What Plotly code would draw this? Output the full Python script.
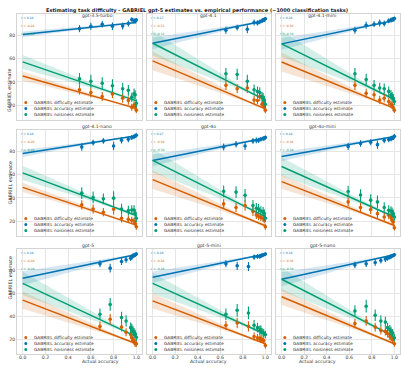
import numpy as np
import plotly.graph_objects as go

# ---------------- data ----------------
models = ["gpt-3.5-turbo", "gpt-4.1", "gpt-4.1-mini",
          "gpt-4.1-nano", "gpt-4o", "gpt-4o-mini",
          "gpt-5", "gpt-5-mini", "gpt-5-nano"]

actual_accuracy = [
    [0.50, 0.60, 0.70, 0.79, 0.88, 0.93, 0.96, 0.98, 0.99, 1.00],
    [0.65, 0.75, 0.84, 0.90, 0.93, 0.95, 0.97, 0.98, 0.99, 1.00],
    [0.65, 0.75, 0.82, 0.87, 0.91, 0.95, 0.97, 0.98, 0.99, 1.00],
    [0.52, 0.62, 0.71, 0.80, 0.87, 0.93, 0.96, 0.98, 0.99, 1.00],
    [0.63, 0.74, 0.82, 0.89, 0.92, 0.94, 0.96, 0.98, 0.99, 1.00],
    [0.59, 0.70, 0.79, 0.85, 0.91, 0.95, 0.97, 0.98, 0.99, 1.00],
    [0.68, 0.77, 0.87, 0.91, 0.95, 0.96, 0.97, 0.98, 0.99, 1.00],
    [0.65, 0.75, 0.85, 0.90, 0.93, 0.95, 0.96, 0.97, 0.985, 1.00],
    [0.65, 0.75, 0.83, 0.88, 0.92, 0.94, 0.96, 0.97, 0.985, 1.00],
]

accuracy_est = [
    [85.5, 87.6, 89.3, 87.6, 87.8, 89.9, 93.3, 92.2, 92.2, 92.8],
    [84.1, 86.4, 85.0, 90.7, 90.4, 91.3, 92.2, 92.8, 93.3, 93.9],
    [84.1, 88.4, 89.3, 90.4, 89.9, 92.2, 92.8, 93.3, 93.6, 94.2],
    [83.5, 87.2, 88.7, 84.4, 89.2, 90.1, 91.6, 92.2, 93.0, 93.5],
    [83.5, 85.8, 84.4, 88.7, 89.2, 89.2, 90.1, 90.7, 90.9, 91.6],
    [84.0, 86.4, 87.5, 85.5, 89.2, 89.8, 90.4, 91.3, 91.3, 92.7],
    [85.2, 81.5, 87.2, 88.7, 90.1, 91.0, 92.2, 92.5, 93.0, 93.6],
    [85.2, 83.5, 82.9, 91.0, 91.6, 91.6, 92.2, 92.5, 93.0, 93.6],
    [84.3, 85.2, 86.3, 88.1, 89.3, 90.1, 91.0, 91.6, 92.2, 93.0],
]

difficulty_est = [
    [33.3, 31.0, 27.5, 29.8, 26.1, 24.1, 18.3, 20.3, 18.9, 15.9],
    [37.1, 34.2, 34.8, 24.6, 24.1, 27.5, 20.9, 21.7, 18.9, 15.9],
    [37.1, 30.4, 29.0, 24.6, 26.1, 23.2, 20.9, 20.3, 18.0, 15.9],
    [34.1, 30.6, 27.8, 30.3, 22.6, 21.7, 20.9, 20.3, 18.3, 15.4],
    [34.9, 31.8, 33.5, 28.4, 25.5, 24.1, 23.2, 22.6, 21.1, 15.4],
    [36.6, 31.8, 30.1, 26.6, 23.7, 25.2, 23.2, 20.9, 19.4, 14.6],
    [31.3, 37.4, 30.7, 26.3, 24.3, 21.5, 19.7, 19.1, 16.3, 16.3],
    [32.2, 34.2, 31.3, 22.6, 21.5, 20.6, 20.6, 19.7, 19.1, 14.8],
    [33.7, 36.0, 30.7, 27.8, 27.0, 24.9, 22.6, 22.0, 19.7, 16.3],
]

noisiness_est = [
    [42.6, 40.6, 38.9, 36.8, 34.2, 32.8, 27.0, 29.8, 29.0, 21.7],
    [47.0, 46.4, 40.6, 33.3, 31.9, 31.0, 27.5, 26.7, 24.6, 20.9],
    [47.0, 42.0, 37.1, 34.8, 34.2, 31.9, 29.0, 27.5, 26.1, 23.2],
    [44.1, 40.4, 39.2, 39.8, 30.6, 29.2, 29.7, 29.7, 26.9, 22.6],
    [45.6, 45.0, 42.2, 33.5, 31.2, 30.6, 28.9, 28.4, 26.9, 22.6],
    [45.5, 42.4, 38.1, 36.6, 31.8, 29.5, 28.9, 28.0, 26.6, 23.7],
    [41.7, 50.2, 38.9, 36.0, 30.2, 29.3, 27.8, 26.3, 25.0, 22.0],
    [41.7, 45.2, 42.9, 32.2, 30.2, 27.8, 28.4, 26.3, 25.5, 24.3],
    [44.6, 48.7, 40.9, 36.0, 35.0, 30.2, 28.4, 27.2, 25.5, 21.5],
]

accuracy_err = [
    [3.0, 3.0, 2.8, 3.2, 3.0, 2.5, 2.0, 2.2, 2.0, 1.8],
    [3.0, 2.5, 3.5, 2.5, 2.2, 2.0, 2.0, 1.8, 1.8, 1.6],
    [3.0, 3.0, 2.5, 3.0, 2.5, 2.2, 2.0, 2.0, 1.8, 1.6],
    [3.2, 2.5, 2.5, 3.5, 2.8, 2.5, 2.2, 2.0, 1.8, 1.8],
    [3.0, 2.8, 3.5, 2.5, 2.5, 2.2, 2.0, 2.0, 1.8, 1.8],
    [3.0, 2.8, 2.5, 3.5, 2.5, 2.2, 2.0, 2.0, 1.8, 1.8],
    [3.0, 3.8, 3.0, 2.5, 2.5, 2.2, 2.0, 2.0, 1.8, 1.6],
    [3.0, 3.5, 3.8, 2.2, 2.0, 2.0, 1.8, 1.8, 1.6, 1.6],
    [2.8, 2.8, 2.8, 2.5, 2.5, 2.2, 2.0, 2.0, 1.8, 1.6],
]

difficulty_err = [
    [4.0, 4.0, 3.8, 3.5, 3.8, 3.5, 3.0, 3.2, 3.0, 2.5],
    [4.0, 3.8, 4.2, 3.5, 3.2, 3.8, 3.0, 3.0, 2.8, 2.5],
    [4.0, 3.8, 3.5, 3.5, 3.5, 3.2, 3.0, 3.0, 2.8, 2.5],
    [4.0, 3.8, 3.5, 4.5, 3.5, 3.2, 3.0, 3.0, 2.8, 2.5],
    [4.0, 3.8, 4.5, 3.8, 3.5, 3.2, 3.0, 3.0, 2.8, 2.5],
    [4.0, 3.8, 3.8, 4.0, 3.5, 3.5, 3.0, 3.0, 2.8, 2.5],
    [4.0, 4.5, 3.8, 3.5, 3.5, 3.2, 3.0, 3.0, 2.8, 2.5],
    [4.0, 4.5, 4.5, 3.5, 3.2, 3.0, 3.0, 2.8, 2.8, 2.5],
    [4.0, 4.2, 3.8, 3.5, 3.5, 3.2, 3.0, 3.0, 2.8, 2.5],
]

noisiness_err = [
    [5.0, 5.5, 5.0, 5.5, 5.0, 4.5, 4.0, 4.5, 4.0, 3.5],
    [5.0, 4.8, 5.5, 4.5, 4.2, 4.5, 4.0, 3.8, 3.5, 3.2],
    [5.0, 5.0, 4.5, 4.5, 4.5, 4.2, 4.0, 3.8, 3.5, 3.2],
    [5.0, 5.0, 4.5, 6.0, 4.5, 4.2, 4.0, 4.0, 3.5, 3.2],
    [5.0, 5.0, 5.5, 4.8, 4.5, 4.2, 4.0, 3.8, 3.5, 3.2],
    [5.0, 5.0, 5.0, 5.5, 4.5, 4.2, 4.0, 3.8, 3.5, 3.2],
    [5.0, 5.5, 5.0, 4.8, 4.5, 4.2, 4.0, 3.8, 3.5, 3.2],
    [5.0, 5.5, 5.5, 4.5, 4.2, 4.0, 3.8, 3.8, 3.5, 3.2],
    [5.0, 5.5, 5.0, 4.8, 4.5, 4.2, 4.0, 3.8, 3.5, 3.2],
]

# regression lines: value at accuracy 0 and at 1
difficulty_line_at0 = [45.0, 58.0, 57.0, 49.0, 55.6, 53.9, 53.9, 53.3, 56.8]
difficulty_line_at1 = [17.4, 17.0, 17.4, 16.8, 16.3, 16.5, 16.3, 16.3, 16.3]
accuracy_line_at0 = [80.6, 73.0, 72.5, 78.0, 72.0, 75.4, 72.8, 73.7, 71.9]
accuracy_line_at1 = [90.8, 92.2, 92.4, 93.0, 91.2, 92.4, 93.2, 93.6, 93.0]
noisiness_line_at0 = [57.1, 73.0, 72.5, 61.4, 72.0, 66.8, 68.4, 68.4, 71.9]
noisiness_line_at1 = [23.8, 24.5, 25.0, 25.0, 24.0, 23.7, 22.5, 24.5, 22.5]
# half-width of the 95% band at accuracy 0
difficulty_band_at0 = [4.0, 8.0, 8.0, 4.0, 8.0, 6.0, 7.5, 6.5, 7.0]
accuracy_band_at0 = [2.5, 5.0, 5.0, 3.0, 5.0, 4.0, 6.0, 5.0, 6.0]
noisiness_band_at0 = [6.0, 10.5, 11.0, 6.0, 10.0, 8.0, 10.0, 9.0, 10.0]

r_accuracy = ["0.28", "0.27", "0.28", "0.28", "0.27", "0.28", "0.28", "0.28", "0.28"]
r_difficulty = ["-0.28", "-0.33", "-0.30", "-0.26", "-0.30", "-0.30", "-0.28", "-0.28", "-0.30"]
r_noisiness = ["-0.28", "-0.32", "-0.30", "-0.28", "-0.30", "-0.30", "-0.28", "-0.28", "-0.30"]

series_names = ["GABRIEL difficulty estimate", "GABRIEL accuracy estimate",
                "GABRIEL noisiness estimate"]
x_ticks = [0.0, 0.2, 0.4, 0.6, 0.8, 1.0]
y_ticks = [20, 40, 60, 80]

# ---------------- styling / layout ----------------
W, H = 401, 370
COLORS = ["#d55e00", "#0173b2", "#029e73"]
FILLS = ["rgba(213,94,0,0.17)", "rgba(1,115,178,0.17)", "rgba(2,158,115,0.17)"]
FONT = "DejaVu Sans"
col_px = [(17, 142), (147, 271), (276, 400)]
row_px = [(14, 120), (130, 236), (249, 354)]


def px(xp):
    return xp / W


def py(yp):
    return 1 - yp / H


fig = go.Figure()
annotations = []
shapes = []

for i, model in enumerate(models):
    r, c = divmod(i, 3)
    n = i + 1
    xa = "x" if n == 1 else f"x{n}"
    ya = "y" if n == 1 else f"y{n}"
    x = np.array(actual_accuracy[i])
    ys = [difficulty_est[i], accuracy_est[i], noisiness_est[i]]
    errs = [difficulty_err[i], accuracy_err[i], noisiness_err[i]]
    starts = [difficulty_line_at0[i], accuracy_line_at0[i], noisiness_line_at0[i]]
    ends = [difficulty_line_at1[i], accuracy_line_at1[i], noisiness_line_at1[i]]
    bands0 = [difficulty_band_at0[i], accuracy_band_at0[i], noisiness_band_at0[i]]
    xs = np.linspace(0, 1, 80)

    # confidence-band shape of a linear fit over these x values
    xbar = x.mean()
    sxx = np.sum((x - xbar) ** 2)
    shape = np.sqrt(1 / len(x) + (xs - xbar) ** 2 / sxx)
    shape = shape / shape[0]

    fits = []
    for k in range(3):
        yl = starts[k] + (ends[k] - starts[k]) * xs
        hw = bands0[k] * shape
        fits.append((yl, yl - hw, yl + hw))

    for k in range(3):
        yl, lo, hi = fits[k]
        fig.add_trace(go.Scatter(
            x=np.concatenate([xs, xs[::-1]]), y=np.concatenate([hi, lo[::-1]]),
            fill="toself", fillcolor=FILLS[k], line=dict(width=0),
            mode="lines", hoverinfo="skip", showlegend=False, xaxis=xa, yaxis=ya))
    for k in range(3):
        yl, lo, hi = fits[k]
        fig.add_trace(go.Scatter(
            x=xs, y=yl, mode="lines", line=dict(color=COLORS[k], width=1.5),
            showlegend=False, xaxis=xa, yaxis=ya))
    for k in range(3):
        fig.add_trace(go.Scatter(
            x=x, y=ys[k], mode="markers",
            marker=dict(color=COLORS[k], size=3.6),
            error_y=dict(type="data", array=errs[k], color=COLORS[k],
                         thickness=1.1, width=0),
            name=series_names[k], showlegend=False, xaxis=xa, yaxis=ya))

    x0, x1 = col_px[c]
    y0, y1 = row_px[r]
    axis_common = dict(showgrid=True, gridcolor="#e6e6e6", gridwidth=0.8,
                       zeroline=False, showline=True, mirror=True,
                       linecolor="#d4d4d4", linewidth=0.8, ticks="",
                       tickfont=dict(family=FONT, size=4.6, color="#444"))
    fig.update_layout(**{
        ("xaxis" if n == 1 else f"xaxis{n}"): dict(
            axis_common, domain=[px(x0), px(x1)], range=[-0.05, 1.05],
            anchor=ya, tickvals=x_ticks,
            ticktext=[f"{v:.1f}" for v in x_ticks],
            ticklabelstandoff=-1,
            showticklabels=(r == 2)),
        ("yaxis" if n == 1 else f"yaxis{n}"): dict(
            axis_common, domain=[py(y1), py(y0)], range=[7.5, 98],
            anchor=xa, tickvals=y_ticks,
            showticklabels=(c == 0)),
    })

    # panel title
    annotations.append(dict(text=model, x=px((x0 + x1) / 2), y=py(y0 - 3.2),
                            xref="paper", yref="paper", showarrow=False,
                            font=dict(family=FONT, size=4.6, color="#333")))
    # r labels
    for k, (lab, col) in enumerate(zip([r_accuracy[i], r_difficulty[i], r_noisiness[i]],
                                       [COLORS[1], COLORS[0], COLORS[2]])):
        annotations.append(dict(text=f"r = {lab}", x=px(x0 + 1.6), y=py(y0 + 4 + 8 * k),
                                xref="paper", yref="paper", showarrow=False,
                                xanchor="left", yanchor="middle",
                                font=dict(family=FONT, size=3.0, color=col)))
    # legend
    for k in range(3):
        ly = y0 + 88.5 + 6 * k
        shapes.append(dict(type="circle", xref="paper", yref="paper",
                           x0=px(x0 + 7.3), x1=px(x0 + 10.3),
                           y0=py(ly + 1.5), y1=py(ly - 1.5),
                           fillcolor=COLORS[k], line=dict(width=0)))
        annotations.append(dict(text=series_names[k], x=px(x0 + 14.5), y=py(ly),
                                xref="paper", yref="paper", showarrow=False,
                                xanchor="left", yanchor="middle",
                                font=dict(family=FONT, size=4.3, color="#333")))
    if c == 0:
        annotations.append(dict(text="GABRIEL estimate", x=px(5), y=py((y0 + y1) / 2),
                                xref="paper", yref="paper", showarrow=False,
                                textangle=-90,
                                font=dict(family=FONT, size=4.8, color="#333")))
    if r == 2:
        annotations.append(dict(text="Actual accuracy", x=px((x0 + x1) / 2), y=py(365.5),
                                xref="paper", yref="paper", showarrow=False,
                                font=dict(family=FONT, size=4.6, color="#333")))

annotations.append(dict(
    text="<b>Estimating task difficulty - GABRIEL gpt-5 estimates vs. empirical performance (~1000 classification tasks)</b>",
    x=px(197), y=py(5.2), xref="paper", yref="paper", showarrow=False,
    font=dict(family=FONT, size=5.0, color="#222")))

fig.update_layout(width=W, height=H, margin=dict(l=0, r=0, t=0, b=0),
                  paper_bgcolor="white", plot_bgcolor="white",
                  showlegend=False, annotations=annotations, shapes=shapes)

fig.write_html("out.html")
